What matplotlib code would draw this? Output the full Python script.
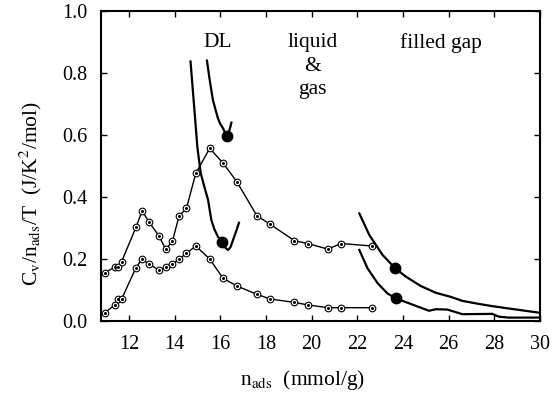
import matplotlib
matplotlib.use("Agg")
import matplotlib.pyplot as plt

plt.rcParams['font.family'] = ['Liberation Serif', 'DejaVu Serif']
plt.rcParams['mathtext.fontset'] = 'stix'

# simulation points (open circles)
n_sim = [10.95, 11.39, 11.54, 11.68, 12.31, 12.58, 12.88, 13.31, 13.62, 13.91,
         14.20, 14.52, 14.93, 15.54, 16.12, 16.73, 17.61, 18.19, 19.25, 19.83,
         20.71, 21.29, 22.64]
cv_upper = [0.156, 0.174, 0.174, 0.191, 0.302, 0.355, 0.320, 0.275, 0.231, 0.258,
            0.339, 0.363, 0.476, 0.557, 0.510, 0.449, 0.339, 0.312, 0.259, 0.250,
            0.232, 0.250, 0.242]
cv_lower = [0.027, 0.052, 0.070, 0.070, 0.172, 0.200, 0.183, 0.165, 0.173, 0.183,
            0.200, 0.218, 0.242, 0.200, 0.138, 0.113, 0.086, 0.071, 0.060, 0.052,
            0.043, 0.043, 0.043]

# DL curves
n_dl_a = [14.70, 14.85, 15.00, 15.15, 15.28, 15.47, 15.61, 15.75, 15.90, 16.08,
          16.20, 16.34, 16.45, 16.56, 16.70, 16.82]
cv_dl_a = [0.837, 0.700, 0.560, 0.476, 0.440, 0.390, 0.326, 0.295, 0.272, 0.256,
           0.238, 0.229, 0.238, 0.261, 0.290, 0.317]
n_dl_b = [15.42, 15.54, 15.68, 15.80, 15.90, 16.00, 16.12, 16.22, 16.30, 16.38,
          16.45, 16.49]
cv_dl_b = [0.840, 0.777, 0.713, 0.680, 0.654, 0.636, 0.622, 0.607, 0.597, 0.610,
           0.628, 0.640]
n_dl_dots = [16.08, 16.30]
cv_dl_dots = [0.256, 0.597]

# filled gap curves
n_fg_a = [22.09, 22.53, 23.11, 23.66, 24.13, 24.78, 25.44, 26.09, 26.60, 27.33,
          27.91, 28.57, 29.95]
cv_fg_a = [0.347, 0.277, 0.213, 0.170, 0.143, 0.113, 0.091, 0.078, 0.065, 0.055,
           0.048, 0.041, 0.027]
n_fg_b = [22.09, 22.45, 22.89, 23.32, 23.69, 24.27, 25.14, 25.44, 25.94, 26.60,
          27.91, 28.20, 28.63, 29.95]
cv_fg_b = [0.229, 0.170, 0.122, 0.089, 0.073, 0.057, 0.033, 0.038, 0.037, 0.022,
           0.023, 0.014, 0.011, 0.011]
n_fg_dots = [23.66, 23.69]
cv_fg_dots = [0.170, 0.073]

fig = plt.figure(figsize=(5.53, 3.97), dpi=100)
ax = fig.add_axes([0.1826, 0.1914, 0.7939, 0.7809])

for cv in (cv_upper, cv_lower):
    ax.plot(n_sim, cv, color='black', lw=1.0, marker='o', ms=4.8,
            mfc='white', mec='black', mew=0.8)
    ax.plot(n_sim, cv, ls='none', marker='o', ms=1.2, color='black')

ax.plot(n_dl_a, cv_dl_a, color='black', lw=1.6)
ax.plot(n_dl_b, cv_dl_b, color='black', lw=1.6)
ax.plot(n_fg_a, cv_fg_a, color='black', lw=1.6)
ax.plot(n_fg_b, cv_fg_b, color='black', lw=1.6)
ax.plot(n_dl_dots + n_fg_dots, cv_dl_dots + cv_fg_dots, ls='none',
        marker='o', ms=7.5, color='black')

ax.text(15.88, 0.897, 'DL', ha='center', va='center', fontsize=15.5)
ax.text(20.03, 0.897, 'liquid', ha='center', va='center', fontsize=15.5)
ax.text(20.03, 0.822, '&', ha='center', va='center', fontsize=15.5)
ax.text(20.03, 0.748, 'gas', ha='center', va='center', fontsize=15.5)
ax.text(25.67, 0.897, 'filled gap', ha='center', va='center', fontsize=15.5)

ax.set_xlim(10.78, 30)
ax.set_ylim(0, 1.0)
ax.set_xticks(range(12, 31, 2))
ax.set_yticks([0.0, 0.2, 0.4, 0.6, 0.8, 1.0])
ax.set_yticklabels(['0.0', '0.2', '0.4', '0.6', '0.8', '1.0'])
ax.tick_params(direction='in', top=True, right=True, length=4, width=1,
               labelsize=14.5, pad=10)
for sp in ax.spines.values():
    sp.set_linewidth(1.5)

ax.set_xlabel(r'n$_\mathrm{ads}$  (mmol/g)', fontsize=15.5)
ax.set_ylabel(r'C$_\mathrm{v}$/n$_\mathrm{ads}$/T  (J/K$^2$/mol)', fontsize=15.5)
ax.xaxis.set_label_coords(0.46, -0.15)
ax.yaxis.set_label_coords(-0.13, 0.41)

fig.savefig('out.png', dpi=100)
